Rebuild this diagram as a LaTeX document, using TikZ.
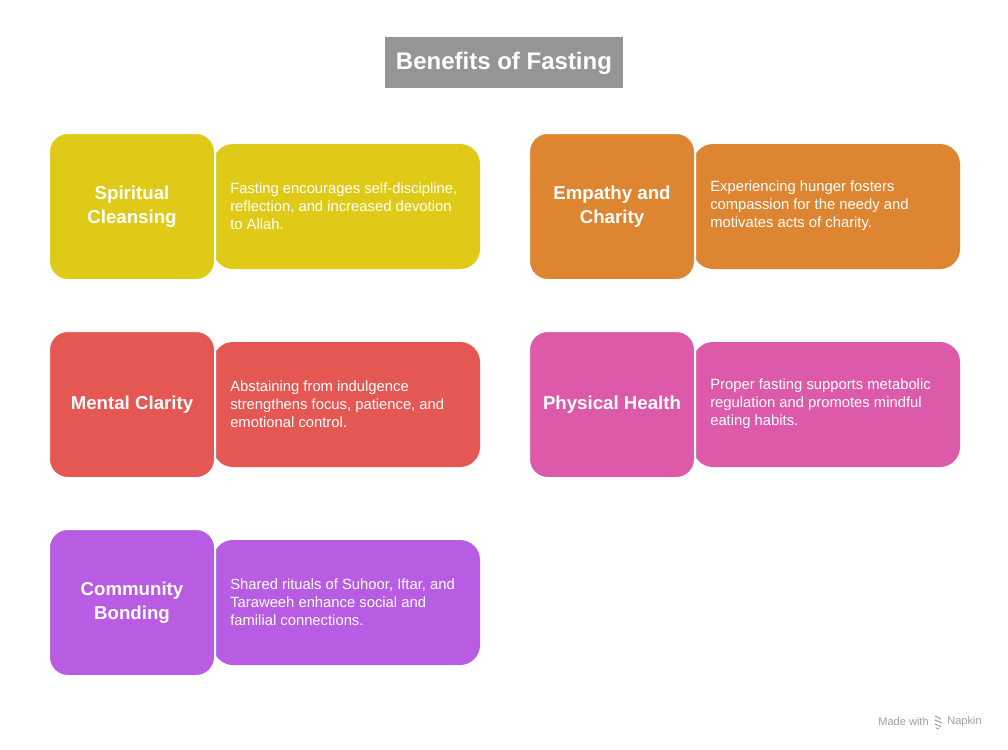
\documentclass[tikz,border=0pt]{standalone}
\usepackage{fontspec}
\setmainfont{Liberation Sans}
\definecolor{ttlgray}{HTML}{959595}
\definecolor{cyel}{HTML}{DFCB17}
\definecolor{corg}{HTML}{DE8532}
\definecolor{cred}{HTML}{E55753}
\definecolor{cpink}{HTML}{DC5AA9}
\definecolor{cpur}{HTML}{B85CE3}
\definecolor{footgray}{HTML}{A0A0A0}
\tikzset{
  bodybox/.style={rounded corners=15pt},
  headbox/.style={rounded corners=14pt, draw=white, line width=1.5pt},
  headtxt/.style={text=white, font=\fontsize{14}{18}\selectfont\bfseries, align=center},
  bodytxt/.style={text=white, font=\fontsize{11.1}{13.5}\selectfont, align=left, anchor=west, inner sep=0pt},
}
\newcommand{\card}[6]{%
  % #1 x left, #2 y top, #3 color, #4 name, #5 head, #6 body
  \fill[bodybox,#3] (#1+164,#2+11) rectangle (#1+431,#2+136);
  \filldraw[headbox,fill=#3] (#1,#2) rectangle (#1+166,#2+147);
  \node[headtxt] (#4h) at (#1+83,#2+74) {#5};
  \node[bodytxt] (#4b) at (#1+181,#2+73) {#6};
}
\begin{document}
\begin{tikzpicture}[x=0.75pt,y=-0.75pt]
\useasboundingbox (0,0) rectangle (1008,750);
\fill[white] (0,0) rectangle (1008,750);
\fill[ttlgray] (385,37) rectangle (623,88);
\node[text=white, font=\fontsize{18}{22}\selectfont\bfseries] (title) at (504,63) {Benefits of Fasting};
\card{49}{133}{cyel}{a}{Spiritual\\Cleansing}{Fasting encourages self-discipline,\\reflection, and increased devotion\\to Allah.}
\card{529}{133}{corg}{b}{Empathy and\\Charity}{Experiencing hunger fosters\\compassion for the needy and\\motivates acts of charity.}
\card{49}{331}{cred}{c}{Mental Clarity}{Abstaining from indulgence\\strengthens focus, patience, and\\emotional control.}
\card{529}{331}{cpink}{d}{Physical Health}{Proper fasting supports metabolic\\regulation and promotes mindful\\eating habits.}
\card{49}{529}{cpur}{e}{Community\\Bonding}{Shared rituals of Suhoor, Iftar, and\\Taraweeh enhance social and\\familial connections.}
\node[text=footgray, font=\fontsize{8.3}{10}\selectfont, anchor=east, inner sep=0pt] (made) at (929,722) {Made with};
\node[text=footgray, font=\fontsize{8.3}{10}\selectfont, anchor=west, inner sep=0pt] (napkin) at (947,722) {Napkin};
\draw[footgray, line width=0.8pt] (935,716) -- (941,719) (935,720) -- (942,723) (935,724) -- (941,727) (936,728) -- (939,729);
\end{tikzpicture}
\end{document}
